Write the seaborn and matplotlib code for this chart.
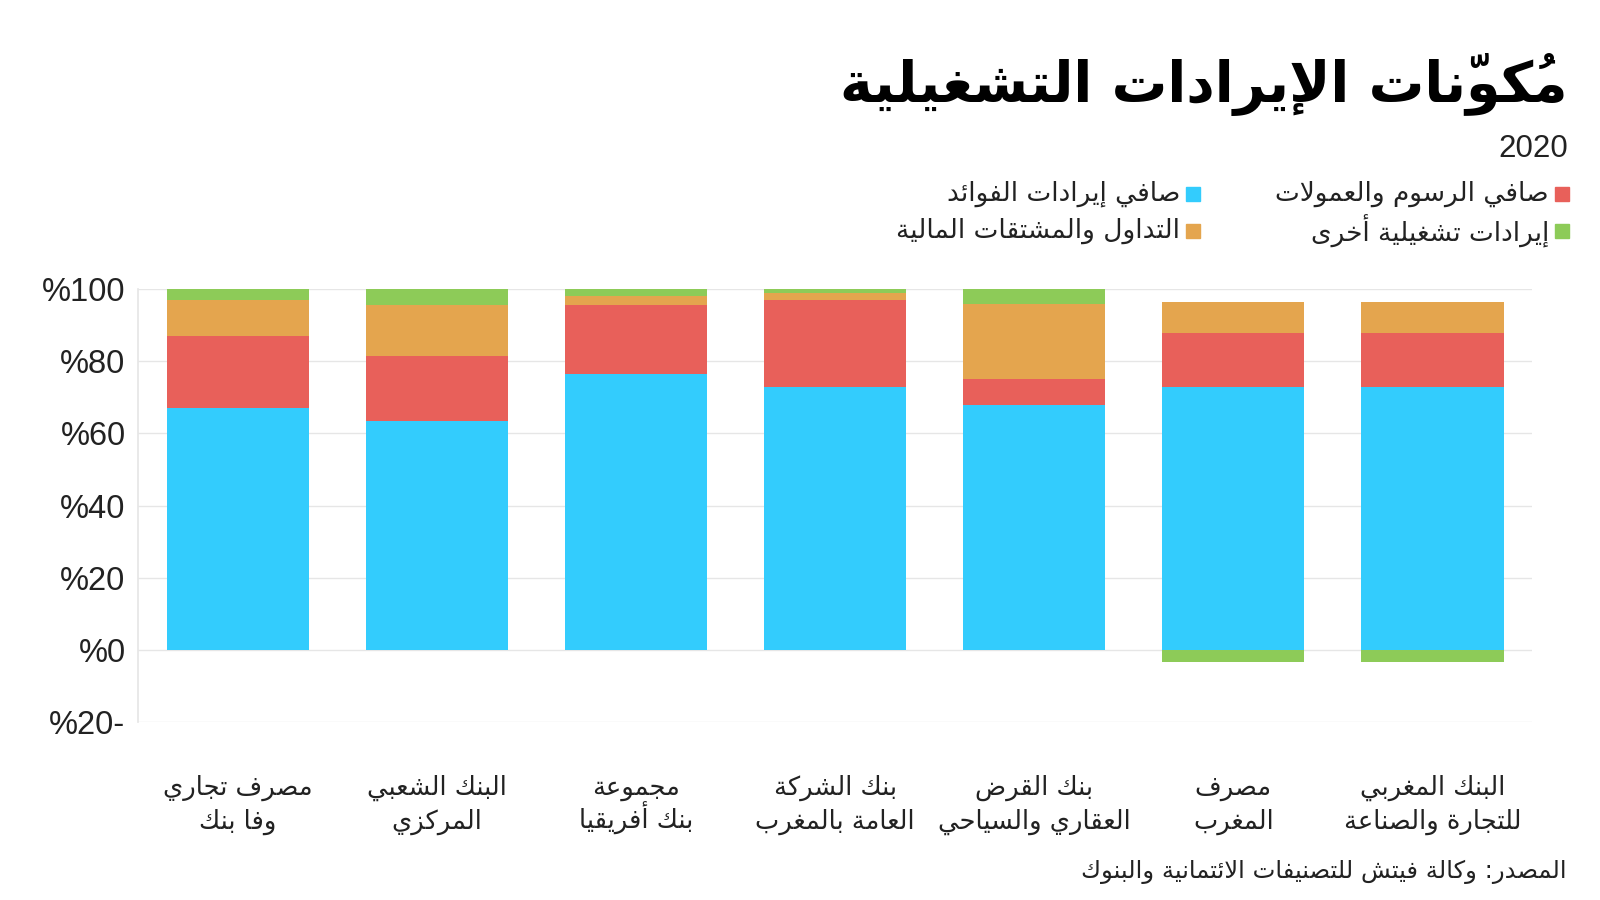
import numpy as np
import pandas as pd
import matplotlib
matplotlib.use("Agg")
import matplotlib.pyplot as plt
import matplotlib.transforms as mtransforms
from matplotlib.patches import Rectangle
import seaborn as sns

# Data (share of operating income, %)
banks = ["مصرف تجاري\nوفا بنك", "البنك الشعبي\nالمركزي", "مجموعة\nبنك أفريقيا",
         "بنك الشركة\nالعامة بالمغرب", "بنك القرض\nالعقاري والسياحي", "مصرف\nالمغرب",
         "البنك المغربي\nللتجارة والصناعة"]
interest = [67, 63.5, 76.5, 73, 68, 73, 73]
fees = [20, 18, 19, 24, 7, 15, 15]
trading = [10, 14, 2.5, 2, 21, 8.5, 8.5]
other = [3, 4.5, 2, 1, 4, -3.5, -3.5]

series_names = ["صافي إيرادات الفوائد", "صافي الرسوم والعمولات",
                "التداول والمشتقات المالية", "إيرادات تشغيلية أخرى"]
colors = ["#33CCFD", "#E8605A", "#E4A54E", "#8DCB58"]
ytick_vals = [-20, 0, 20, 40, 60, 80, 100]
ytick_labels = ["%20-", "%0", "%20", "%40", "%60", "%80", "%100"]

title = "مُكوّنات الإيرادات التشغيلية"
subtitle = "2020"
source = "المصدر: وكالة فيتش للتصنيفات الائتمانية والبنوك"

# --- minimal Arabic shaping (presentation forms + RTL order) ---
_AR = {
    '\u0621': (0xFE80, 1), '\u0622': (0xFE81, 2), '\u0623': (0xFE83, 2),
    '\u0624': (0xFE85, 2), '\u0625': (0xFE87, 2), '\u0626': (0xFE89, 4),
    '\u0627': (0xFE8D, 2), '\u0628': (0xFE8F, 4), '\u0629': (0xFE93, 2),
    '\u062A': (0xFE95, 4), '\u062B': (0xFE99, 4), '\u062C': (0xFE9D, 4),
    '\u062D': (0xFEA1, 4), '\u062E': (0xFEA5, 4), '\u062F': (0xFEA9, 2),
    '\u0630': (0xFEAB, 2), '\u0631': (0xFEAD, 2), '\u0632': (0xFEAF, 2),
    '\u0633': (0xFEB1, 4), '\u0634': (0xFEB5, 4), '\u0635': (0xFEB9, 4),
    '\u0636': (0xFEBD, 4), '\u0637': (0xFEC1, 4), '\u0638': (0xFEC5, 4),
    '\u0639': (0xFEC9, 4), '\u063A': (0xFECD, 4), '\u0641': (0xFED1, 4),
    '\u0642': (0xFED5, 4), '\u0643': (0xFED9, 4), '\u0644': (0xFEDD, 4),
    '\u0645': (0xFEE1, 4), '\u0646': (0xFEE5, 4), '\u0647': (0xFEE9, 4),
    '\u0648': (0xFEED, 2), '\u0649': (0xFEEF, 2), '\u064A': (0xFEF1, 4),
}
LAM_ALEF = {'\u0622': 0xFEF5, '\u0623': 0xFEF7, '\u0625': 0xFEF9, '\u0627': 0xFEFB}
MARKS = set(chr(c) for c in range(0x064B, 0x0653))


def _joins_next(b):
    return len(b) == 1 and b in _AR and _AR[b][1] == 4


def _joins_prev(b):
    return len(b) > 1 or (b in _AR and _AR[b][1] > 1)


def shape_line(text):
    clusters = []
    for ch in text:
        if ch in MARKS and clusters:
            clusters[-1][1] += ch
        else:
            clusters.append([ch, ""])
    merged = []
    i = 0
    while i < len(clusters):
        b, m = clusters[i]
        if b == '\u0644' and i + 1 < len(clusters) and clusters[i + 1][0] in LAM_ALEF:
            merged.append(["LA" + clusters[i + 1][0], m + clusters[i + 1][1]])
            i += 2
        else:
            merged.append([b, m])
            i += 1
    out = []
    for i, (b, m) in enumerate(merged):
        prev = merged[i - 1][0] if i > 0 else None
        nxt = merged[i + 1][0] if i + 1 < len(merged) else None
        p = prev is not None and _joins_next(prev) and _joins_prev(b)
        n = nxt is not None and _joins_next(b) and _joins_prev(nxt)
        if len(b) > 1:
            g = chr(LAM_ALEF[b[2]] + (1 if p else 0))
        elif b in _AR:
            start, nf = _AR[b]
            if nf == 1:
                g = chr(start)
            elif nf == 2:
                g = chr(start + (1 if p else 0))
            else:
                g = chr(start + (3 if p and n else 2 if n else 1 if p else 0))
        else:
            g = b
        # marks are drawn just before their base so they sit on top of it
        out.append(m + g)
    return "".join(reversed(out))


def ar(text):
    return "\n".join(shape_line(line) for line in text.split("\n"))


# --- plot ---
sns.set_theme(style="white")
plt.rcParams["font.family"] = ["DejaVu Sans"]
text_color = "#222222"
W, H = 1600, 900

fig = plt.figure(figsize=(16, 9), dpi=100)
ax = fig.add_axes([0.0863, 0.198, 0.8712, 0.4806])

interest = np.array(interest)
fees = np.array(fees)
trading = np.array(trading)
other = np.array(other)
bottoms = [np.zeros(len(banks)), interest, interest + fees,
           np.where(other >= 0, interest + fees + trading, 0)]
df = pd.DataFrame({"bank": banks})
for vals, bot, col in zip([interest, fees, trading, other], bottoms, colors):
    sns.barplot(x=df["bank"], y=vals, bottom=bot, color=col, width=0.714,
                saturation=1, linewidth=0, ax=ax)

ax.set_xlim(-0.5, len(banks) - 0.5)
ax.set_ylim(-20, 100)
ax.set_yticks(ytick_vals)
ax.set_yticklabels(ytick_labels, family="Liberation Sans", fontsize=23.5, color=text_color)
ax.set_xticks(range(len(banks)))
ax.set_xticklabels([])
ax.tick_params(axis="both", length=0)
ax.tick_params(axis="y", pad=9)
ax.set_xlabel("")
ax.set_ylabel("")
ax.yaxis.grid(True, color="#e6e6e6", lw=1)
ax.set_axisbelow(True)
for s in ["top", "right", "bottom"]:
    ax.spines[s].set_visible(False)
ax.spines["left"].set_color("#e6e6e6")

# category labels: two lines each, fixed baselines
trans = mtransforms.blended_transform_factory(ax.transData, fig.transFigure)
for i, b in enumerate(banks):
    for line, base in zip(b.split("\n"), [795, 829]):
        ax.text(i, 1 - base / H, ar(line), transform=trans, ha="center", va="baseline",
                fontsize=18.5, color=text_color)

# Title block (right aligned, RTL)
fig.text(0.98, 0.887, ar(title), ha="right", va="baseline", fontsize=40,
         fontweight="bold", color="#000000")
fig.text(0.98, 1 - 157 / H, subtitle, ha="right", va="baseline", fontsize=22.5,
         family="Liberation Sans", color=text_color)

# Legend, laid out right to left
legend_items = [(series_names[1], colors[1], 1569, 194), (series_names[3], colors[3], 1569, 231),
                (series_names[0], colors[0], 1200, 194), (series_names[2], colors[2], 1200, 231)]
sq = 14
for name, col, xr, yc in legend_items:
    fig.patches.append(Rectangle(((xr - sq) / W, 1 - (yc + sq / 2) / H), sq / W, sq / H,
                                 transform=fig.transFigure, color=col, figure=fig))
    fig.text((xr - sq - 6) / W, 1 - yc / H, ar(name), ha="right", va="center",
             fontsize=19, color=text_color)

fig.text(0.979, 1 - 872 / H, ar(source), ha="right", va="center", fontsize=17.5,
         color=text_color)

fig.savefig("out.png", dpi=100, facecolor="white")
